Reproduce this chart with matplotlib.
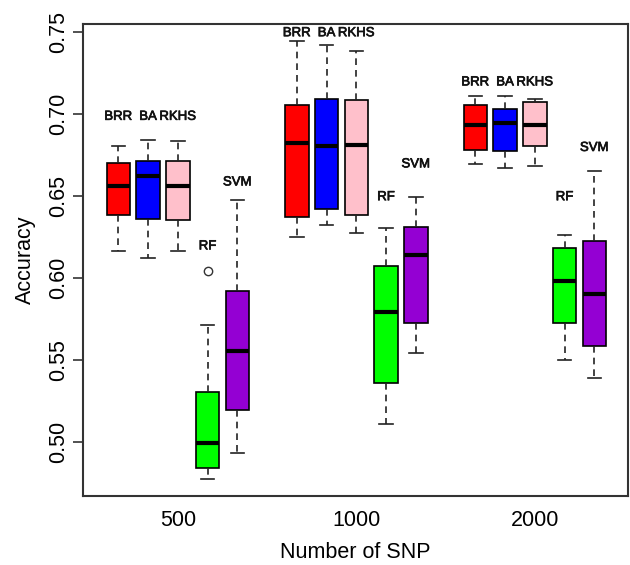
import matplotlib
matplotlib.use("Agg")
import matplotlib.pyplot as plt
import matplotlib.patheffects as pe

plt.rcParams['font.family'] = ['Liberation Sans', 'DejaVu Sans']

groups = ["500", "1000", "2000"]
methods = ["BRR", "BA", "RKHS", "RF", "SVM"]
colors = ["#FF0000", "#0000FF", "#FFC0CB", "#00FF00", "#9400D3"]

# per group, per method: lower whisker, Q1, median, Q3, upper whisker
whislo = [[0.616, 0.612, 0.616, 0.477, 0.493],
          [0.625, 0.632, 0.627, 0.511, 0.554],
          [0.669, 0.667, 0.668, 0.550, 0.539]]
q1 = [[0.638, 0.636, 0.635, 0.484, 0.519],
      [0.637, 0.642, 0.638, 0.536, 0.572],
      [0.678, 0.677, 0.680, 0.572, 0.558]]
med = [[0.656, 0.662, 0.656, 0.499, 0.555],
       [0.682, 0.680, 0.681, 0.579, 0.614],
       [0.693, 0.694, 0.693, 0.598, 0.590]]
q3 = [[0.670, 0.671, 0.671, 0.530, 0.592],
      [0.705, 0.709, 0.708, 0.607, 0.631],
      [0.705, 0.703, 0.707, 0.618, 0.622]]
whishi = [[0.680, 0.684, 0.683, 0.571, 0.647],
          [0.744, 0.742, 0.738, 0.630, 0.649],
          [0.711, 0.711, 0.709, 0.626, 0.665]]
outliers = [[[], [], [], [0.604], []],
            [[], [], [], [], []],
            [[], [], [], [], []]]

# label heights (y of text) for each group: top labels, RF, SVM
label_top = [0.698, 0.749, 0.719]
label_rf = [0.619, 0.649, 0.649]
label_svm = [0.658, 0.669, 0.679]

fig = plt.figure(figsize=(6.3, 5.65), dpi=100)
ax = fig.add_axes([0.1317, 0.1221, 0.8651, 0.8354])

lab_fx = [pe.withStroke(linewidth=0.5, foreground="#111111")]

for g in range(len(groups)):
    stats = []
    positions = []
    for m in range(len(methods)):
        stats.append(dict(whislo=whislo[g][m], q1=q1[g][m], med=med[g][m],
                          q3=q3[g][m], whishi=whishi[g][m], fliers=outliers[g][m]))
        positions.append(g * 6 + m + 1)
    bp = ax.bxp(stats, positions=positions, widths=0.79, patch_artist=True,
                showfliers=True,
                boxprops=dict(edgecolor="black", linewidth=1.2),
                medianprops=dict(color="black", linewidth=3, solid_capstyle="butt"),
                whiskerprops=dict(color="#222222", linestyle=(0, (4, 3)), linewidth=1.2),
                capprops=dict(color="#222222", linewidth=1.2),
                capwidths=0.45,
                flierprops=dict(marker="o", markerfacecolor="none",
                                markeredgecolor="#333333", markersize=6, markeredgewidth=1))
    for patch, c in zip(bp["boxes"], colors):
        patch.set_facecolor(c)
    base = g * 6
    for m in range(3):
        ax.text(base + m + 1, label_top[g], methods[m], ha="center", va="center",
                fontsize=9.5, color="#111111", path_effects=lab_fx)
    ax.text(base + 4, label_rf[g], methods[3], ha="center", va="center",
            fontsize=9.5, color="#111111", path_effects=lab_fx)
    ax.text(base + 5, label_svm[g], methods[4], ha="center", va="center",
            fontsize=9.5, color="#111111", path_effects=lab_fx)

ax.set_xlim(-0.19, 18.13)
ax.set_ylim(0.4668, 0.7546)
ax.set_xticks([3, 9, 15])
ax.set_xticklabels(groups, fontsize=15.5)
ax.tick_params(axis="x", length=0, pad=10)
ax.set_yticks([0.50, 0.55, 0.60, 0.65, 0.70, 0.75])
ax.set_yticklabels(["0.50", "0.55", "0.60", "0.65", "0.70", "0.75"],
                   rotation=90, va="center", fontsize=15.5)
ax.tick_params(axis="y", length=7, width=1.2, color="#333333", pad=3)
for s in ax.spines.values():
    s.set_color("#333333")
    s.set_linewidth(1.5)
ax.set_xlabel("Number of SNP", fontsize=15.5, labelpad=8)
ax.set_ylabel("Accuracy", fontsize=15.5, labelpad=9)

fig.savefig("out.png", dpi=100)
